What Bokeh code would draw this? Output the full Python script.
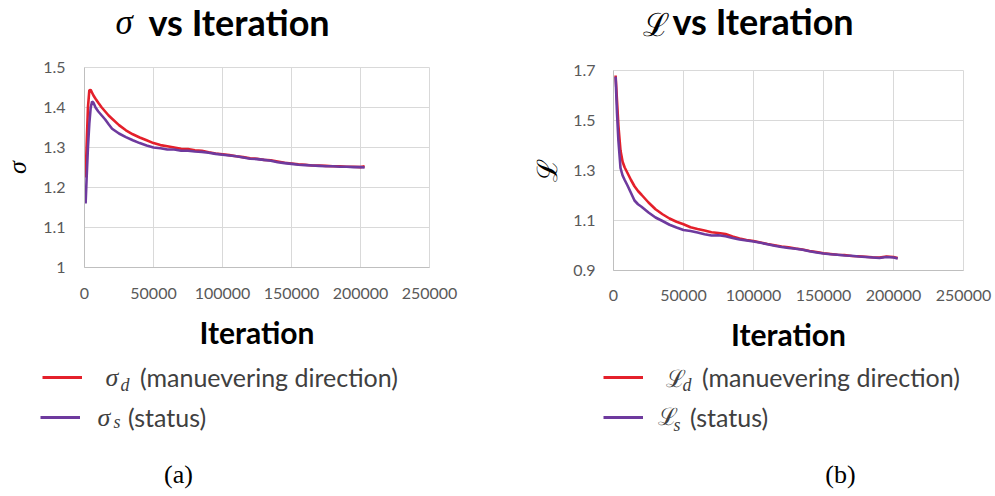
from bokeh.plotting import figure
from bokeh.layouts import row, column
from bokeh.models import FixedTicker, BasicTickFormatter, Legend, LegendItem
from bokeh.core.properties import value
from bokeh.embed import file_html
from bokeh.resources import INLINE

# ---------------- data ----------------
sigma_iter = [800, 1500, 2500, 3500, 4500, 5500, 6500, 8000, 10000, 12500, 15000, 17500,
              20000, 25000, 30000, 35000, 40000, 45000, 50000, 55000, 60000, 65000, 70000,
              75000, 80000, 85000, 90000, 95000, 100000, 105000, 110000, 115000, 120000,
              125000, 130000, 135000, 140000, 145000, 150000, 155000, 160000, 165000,
              170000, 175000, 180000, 185000, 190000, 195000, 200000, 203000]
sigma_d = [1.225, 1.30, 1.40, 1.443, 1.444, 1.437, 1.43, 1.422, 1.412, 1.40, 1.39, 1.38,
           1.372, 1.356, 1.343, 1.333, 1.325, 1.318, 1.311, 1.306, 1.303, 1.300, 1.297,
           1.296, 1.293, 1.292, 1.288, 1.285, 1.283, 1.281, 1.278, 1.276, 1.273,
           1.272, 1.269, 1.268, 1.265, 1.262, 1.260, 1.258, 1.257, 1.255,
           1.255, 1.254, 1.253, 1.253, 1.252, 1.252, 1.251, 1.253]
sigma_s = [1.16, 1.22, 1.30, 1.36, 1.40, 1.415, 1.412, 1.40, 1.39, 1.38, 1.37, 1.358,
           1.347, 1.335, 1.326, 1.318, 1.311, 1.305, 1.300, 1.298, 1.295, 1.295, 1.292,
           1.292, 1.290, 1.289, 1.287, 1.284, 1.282, 1.280, 1.278, 1.275, 1.272,
           1.271, 1.269, 1.267, 1.263, 1.261, 1.259, 1.257, 1.256, 1.255,
           1.254, 1.253, 1.253, 1.252, 1.252, 1.251, 1.251, 1.250]

loss_iter = [1500, 2500, 3500, 5000, 6500, 8000, 10000, 12500, 15000, 17500, 20000, 25000,
             30000, 35000, 40000, 45000, 50000, 55000, 60000, 65000, 70000, 75000, 80000,
             85000, 90000, 95000, 100000, 105000, 110000, 115000, 120000, 125000, 130000,
             135000, 140000, 145000, 150000, 155000, 160000, 165000, 170000, 175000,
             180000, 185000, 190000, 195000, 200000, 203000]
loss_d = [1.68, 1.58, 1.48, 1.38, 1.335, 1.312, 1.29, 1.262, 1.237, 1.218, 1.203, 1.172,
          1.145, 1.125, 1.108, 1.095, 1.085, 1.073, 1.066, 1.06, 1.053, 1.05, 1.046,
          1.036, 1.028, 1.022, 1.018, 1.012, 1.006, 1.001, 0.996, 0.993, 0.988,
          0.984, 0.978, 0.974, 0.969, 0.966, 0.963, 0.962, 0.958, 0.957,
          0.955, 0.953, 0.952, 0.956, 0.954, 0.950]
loss_s = [1.675, 1.53, 1.42, 1.31, 1.28, 1.262, 1.24, 1.21, 1.18, 1.165, 1.155, 1.132,
          1.112, 1.098, 1.083, 1.072, 1.062, 1.058, 1.052, 1.045, 1.04, 1.041, 1.037,
          1.03, 1.024, 1.02, 1.016, 1.011, 1.005, 0.999, 0.994, 0.99, 0.987,
          0.983, 0.977, 0.972, 0.968, 0.965, 0.963, 0.96, 0.959, 0.956,
          0.954, 0.952, 0.95, 0.954, 0.952, 0.948]

x_ticks = [0, 50000, 100000, 150000, 200000, 250000]
sigma_ticks = [1.0, 1.1, 1.2, 1.3, 1.4, 1.5]
sigma_tick_labels = ["1", "1.1", "1.2", "1.3", "1.4", "1.5"]
loss_ticks = [0.9, 1.1, 1.3, 1.5, 1.7]
loss_tick_labels = ["0.9", "1.1", "1.3", "1.5", "1.7"]

RED = "#E4202B"
PURPLE = "#6E3A9E"
GRID = "#D9D9D9"
TICK_COLOR = "#595959"
TEXT_COLOR = "#404040"
SANS = "Lato"
SERIF = "Liberation Serif"
SCRIPT = "DejaVu Serif"


def make_chart(width, height, bl, br, bt, bb, y_range, y_ticks, y_labels, y_title,
               y_title_font, y_title_size, y_title_style, y_title_standoff,
               y_label_standoff, x_label_standoff, xs, y_first, y_second):
    p = figure(width=width, height=height, output_backend="svg", toolbar_location=None,
               x_range=(0, 250000), y_range=y_range,
               min_border_left=bl, min_border_right=br,
               min_border_top=bt, min_border_bottom=bb)
    p.outline_line_color = GRID
    p.xaxis.ticker = FixedTicker(ticks=x_ticks)
    p.xaxis.formatter = BasicTickFormatter(use_scientific=False)
    p.yaxis.ticker = FixedTicker(ticks=y_ticks)
    p.yaxis.major_label_overrides = {t: l for t, l in zip(y_ticks, y_labels)}
    p.xgrid.ticker = FixedTicker(ticks=x_ticks)
    p.ygrid.ticker = FixedTicker(ticks=y_ticks)
    p.grid.grid_line_color = GRID
    p.grid.grid_line_width = 1
    for ax in (p.xaxis, p.yaxis):
        ax.axis_line_color = "#BFBFBF"
        ax.major_tick_line_color = None
        ax.minor_tick_line_color = None
        ax.major_tick_out = 0
        ax.major_tick_in = 0
        ax.major_label_text_font = SANS
        ax.major_label_text_font_size = "16px"
        ax.major_label_text_color = TICK_COLOR
    p.xaxis.major_label_standoff = x_label_standoff
    p.yaxis.major_label_standoff = y_label_standoff
    p.xaxis.axis_label = "Iteration"
    p.xaxis.axis_label_text_font = SANS
    p.xaxis.axis_label_text_font_style = "bold"
    p.xaxis.axis_label_text_font_size = "30px"
    p.xaxis.axis_label_text_color = "#000000"
    p.xaxis.axis_label_standoff = 12
    p.yaxis.axis_label = y_title
    p.yaxis.axis_label_text_font = y_title_font
    p.yaxis.axis_label_text_font_style = y_title_style
    p.yaxis.axis_label_text_font_size = y_title_size
    p.yaxis.axis_label_text_color = "#000000"
    p.yaxis.axis_label_standoff = y_title_standoff
    p.line(xs, y_first, line_color=RED, line_width=2.6)
    p.line(xs, y_second, line_color=PURPLE, line_width=2.6)
    return p


def blank(width, height):
    p = figure(width=width, height=height, output_backend="svg", toolbar_location=None,
               x_range=(0, width), y_range=(0, height), x_axis_type=None,
               y_axis_type=None, min_border=0)
    p.outline_line_color = None
    p.grid.visible = False
    return p


def txt(p, x, y, text, font, size, style="normal", color=TEXT_COLOR, align="left"):
    p.text(x=[x], y=[y], text=[text], text_font=value(font), text_font_size=value(size),
           text_font_style=style, text_color=color, text_align=align,
           text_baseline="middle")


def legend_row(p, xs, ys, color, label, x, y, standoff):
    # key drawn from the series itself; the series lies outside this strip's ranges
    r = p.line(xs, ys, line_color=color, line_width=3)
    leg = Legend(items=[LegendItem(label=label, renderers=[r])],
                 location=(x, y), orientation="vertical", padding=0, spacing=0,
                 glyph_width=40, glyph_height=30, label_height=30,
                 label_text_font=SANS, label_text_font_size="25px",
                 label_text_color=TEXT_COLOR, label_standoff=standoff, margin=0,
                 border_line_color=None, background_fill_alpha=0)
    p.add_layout(leg)


W1, W2 = 518, 477
TOP_H, CHART_H, BOT_H = 53, 309, 134

# ---------------- left column (a) ----------------
top1 = blank(W1, TOP_H)
txt(top1, 115, 31, "σ", SERIF, "35px", "italic", "#000000")
txt(top1, 148, 32, "vs Iteration", SANS, "36px", "bold", "#000000")

chart1 = make_chart(W1, CHART_H, 82, 89, 14, 95, (1.0, 1.5), sigma_ticks,
                    sigma_tick_labels, "σ", SERIF, "26px", "italic", 8, 19, 20,
                    sigma_iter, sigma_d, sigma_s)

bot1 = blank(W1, BOT_H)
legend_row(bot1, sigma_iter, sigma_d, RED, "(manuevering direction)", 42, 104, 58)
legend_row(bot1, sigma_iter, sigma_s, PURPLE, "(status)", 40, 64, 48)
txt(bot1, 105, 119, "σ", SERIF, "26px", "italic")
txt(bot1, 120, 112, "d", SERIF, "18px", "italic")
txt(bot1, 97, 79, "σ", SERIF, "26px", "italic")
txt(bot1, 113, 75, "s", SERIF, "18px", "italic")
txt(bot1, 178, 22, "(a)", SERIF, "26px", "normal", "#000000", align="center")

# ---------------- right column (b) ----------------
top2 = blank(W2, TOP_H)
txt(top2, 124, 29, "ℒ", SCRIPT, "32px", "normal", "#000000")
txt(top2, 154, 33, "vs Iteration", SANS, "36px", "bold", "#000000")

chart2 = make_chart(W2, CHART_H, 95, 32, 17, 92, (0.9, 1.7), loss_ticks,
                    loss_tick_labels, "ℒ", SCRIPT, "28px", "normal", 6, 18, 19,
                    loss_iter, loss_d, loss_s)

bot2 = blank(W2, BOT_H)
legend_row(bot2, loss_iter, loss_d, RED, "(manuevering direction)", 85, 104, 59)
legend_row(bot2, loss_iter, loss_s, PURPLE, "(status)", 85, 64, 47)
txt(bot2, 147, 118, "ℒ", SCRIPT, "24px")
txt(bot2, 164, 112, "d", SERIF, "18px", "italic")
txt(bot2, 139, 80, "ℒ", SCRIPT, "24px")
txt(bot2, 155, 72, "s", SERIF, "18px", "italic")
txt(bot2, 322, 22, "(b)", SERIF, "26px", "normal", "#000000", align="center")

left = column(row(top1), row(chart1), row(bot1))
right = column(row(top2), row(chart2), row(bot2))
layout = row(left, right)
open("out.html", "w").write(file_html(layout, INLINE))
